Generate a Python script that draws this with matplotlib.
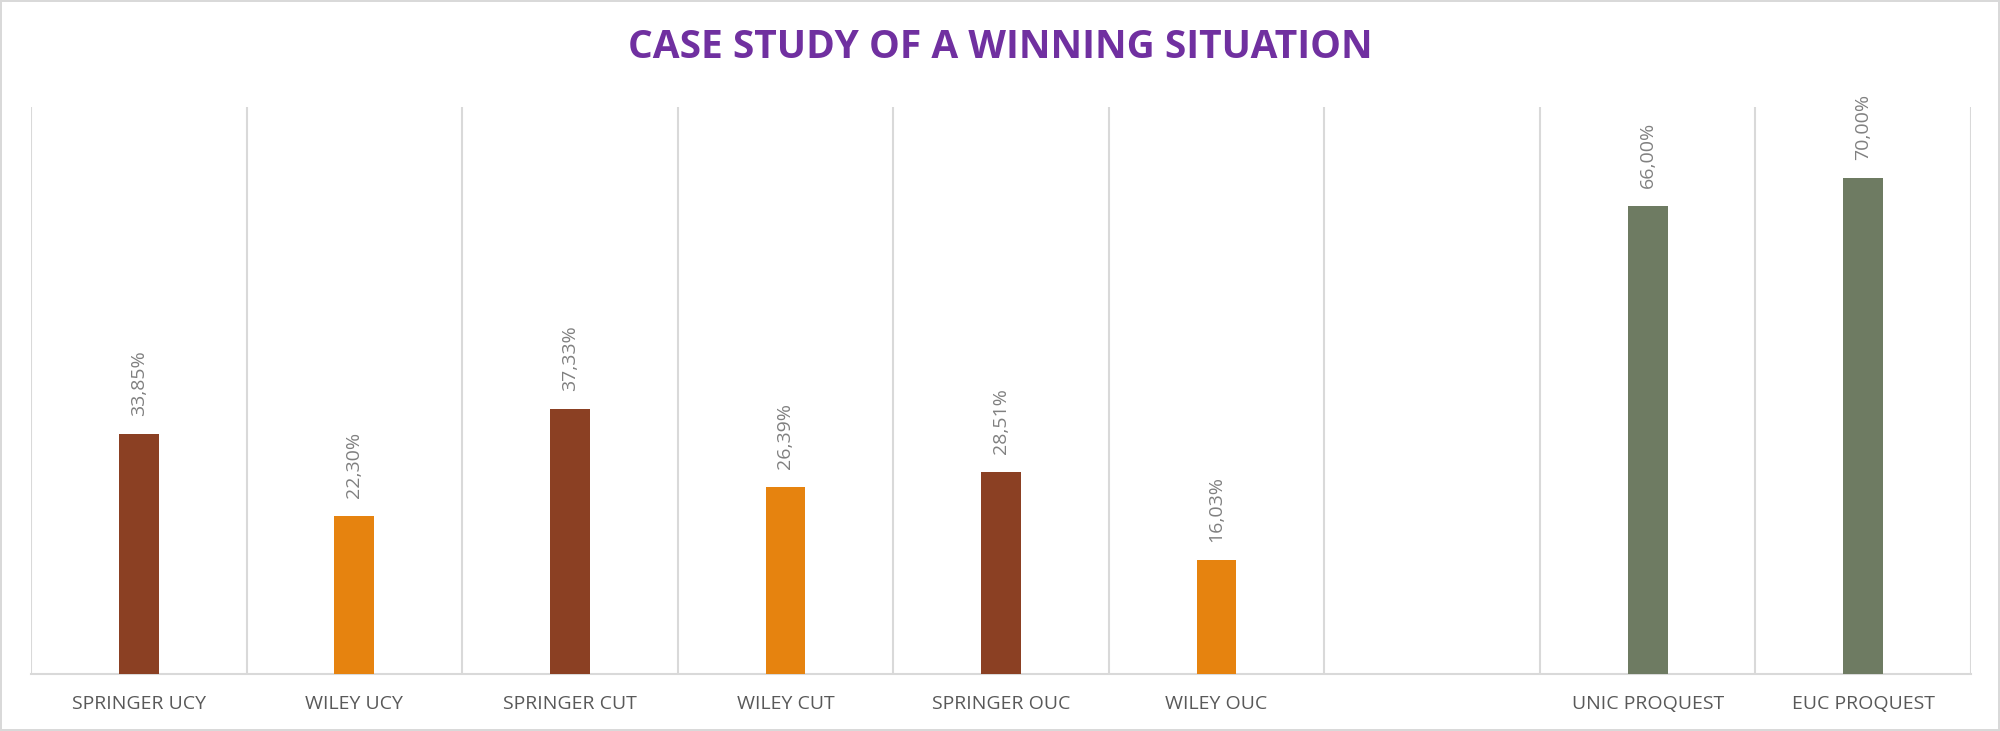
import matplotlib
matplotlib.use("Agg")
import matplotlib.pyplot as plt
import numpy as np

# chart data
categories = ["SPRINGER UCY", "WILEY UCY", "SPRINGER CUT", "WILEY CUT",
              "SPRINGER OUC", "WILEY OUC", "", "UNIC PROQUEST", "EUC PROQUEST"]
values = [33.85, 22.30, 37.33, 26.39, 28.51, 16.03, np.nan, 66.00, 70.00]
series = ["springer", "wiley", "springer", "wiley", "springer", "wiley",
          "none", "proquest", "proquest"]

colors = {"springer": "#8B4023", "wiley": "#E6830F", "proquest": "#6E7B62", "none": "white"}
grid_c = "#D9D9D9"

plt.rcParams['font.family'] = ['Open Sans', 'DejaVu Sans']

fig = plt.figure(figsize=(20, 7.31), dpi=100)
fig.patch.set_edgecolor(grid_c)
fig.patch.set_linewidth(1.5)
ax = fig.add_axes([0.0155, 0.078, 0.970, 0.7756])

x = np.arange(len(categories))
bars = ax.bar(x, np.nan_to_num(values), width=0.185,
              color=[colors[s] for s in series], zorder=3)

for xi, v in zip(x, values):
    if np.isnan(v):
        continue
    ax.annotate(f"{v:.2f}%".replace(".", ","), (xi, v), xytext=(0, 13),
                textcoords="offset points", rotation=90, ha="center", va="bottom",
                fontsize=14, color="#808080")

ax.set_xlim(-0.5, len(categories) - 0.5)
ax.set_ylim(0, 80)
ax.set_xticks(x)
ax.set_xticklabels(categories, fontsize=14, color="#595959")
ax.set_xticks(np.arange(len(categories) + 1) - 0.5, minor=True)
ax.tick_params(axis="x", which="both", length=0, pad=15)
ax.set_yticks([])
ax.grid(axis="x", which="minor", color=grid_c, linewidth=1.5, zorder=0)
for side in ["top", "left", "right"]:
    ax.spines[side].set_visible(False)
ax.spines["bottom"].set_color(grid_c)
ax.spines["bottom"].set_linewidth(1.5)

fig.text(0.5, 1 - 47 / 731, "CASE STUDY OF A WINNING SITUATION", ha="center", va="center",
         fontsize=28, fontweight="bold", color="#7030A0")

fig.savefig("out.png", dpi=100, edgecolor=fig.get_edgecolor())
